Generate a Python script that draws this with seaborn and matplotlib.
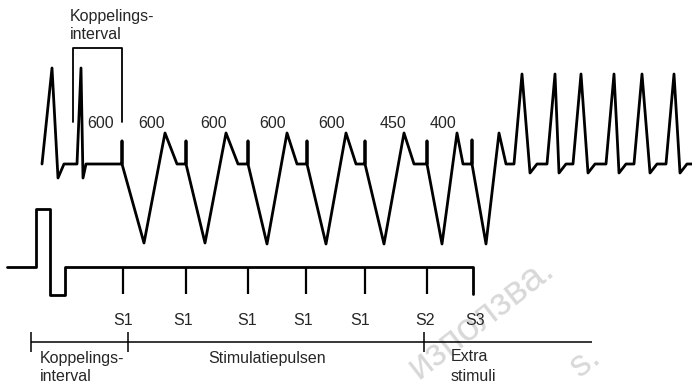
import matplotlib
matplotlib.use("Agg")
import matplotlib.pyplot as plt
import pandas as pd
import seaborn as sns

# ECG-achtige curve (x, y in beeldpunten, y naar beneden)
ecg_x = [42, 52, 58, 64, 77, 81, 83, 86, 122, 122, 122,
         144, 165, 177, 186, 186, 186,
         205, 226, 238, 248, 248, 248,
         267, 287, 297, 307, 307, 307,
         326, 346, 356, 365, 365, 365,
         384, 404, 414, 427, 427, 427,
         442, 457, 463, 472, 472, 472,
         486, 499, 506, 514,
         522, 530, 537, 547,
         555, 559, 566, 573,
         581, 588, 595, 606,
         614, 619, 626, 634,
         642, 650, 657, 666,
         674, 680, 687, 692]
ecg_y = [164, 68, 178, 164, 164, 68, 178, 164, 164, 141, 164,
         243, 133, 164, 164, 141, 164,
         243, 133, 164, 164, 141, 164,
         244, 133, 164, 164, 141, 164,
         244, 133, 164, 164, 141, 164,
         244, 133, 164, 164, 141, 164,
         244, 133, 164, 164, 140, 164,
         244, 133, 164, 164,
         74, 173, 164, 164,
         74, 173, 164, 164,
         74, 173, 164, 164,
         74, 173, 164, 164,
         74, 173, 164, 164,
         74, 173, 164, 164]

# stimulatiespoor
stim_x = [7, 36, 36, 50, 50, 65, 65, 473, 473]
stim_y = [267, 267, 209, 209, 295, 295, 267, 267, 294]
pulse_x = [123, 186, 248, 306, 365, 427]
pulse_top, pulse_bottom = 267, 294

# intervallen boven de curve
interval_labels = ["600", "600", "600", "600", "600", "450", "400"]
interval_x = [101, 152, 214, 273, 332, 393, 443]

s_labels = ["S1", "S1", "S1", "S1", "S1", "S2", "S3"]
s_label_x = [123, 183, 247, 303, 360, 425, 475]

# koppelingsinterval-haak
bracket_x = [73, 73, 122, 122]
bracket_y = [122, 48, 48, 122]

# tijdlijn onderaan
timeline_x = [31, 592]
timeline_y = 342
timeline_ticks = [31, 128, 424]

sns.set_style("white")
plt.rcParams["font.family"] = ["Liberation Sans", "DejaVu Sans"]

fig = plt.figure(figsize=(6.92, 3.85), dpi=100)
ax = fig.add_axes([0, 0, 1, 1])

# watermerk
ax.text(481, 318, "използва.", fontsize=28, color="#d8d8d8", rotation=38,
        ha="center", va="center", zorder=0)
ax.text(585, 362, "s.", fontsize=26, color="#d8d8d8", rotation=38,
        ha="center", va="center", zorder=0)

ecg = pd.DataFrame({"x": ecg_x, "y": ecg_y})
sns.lineplot(data=ecg, x="x", y="y", sort=False, estimator=None,
             color="black", linewidth=2, ax=ax)

stim = pd.DataFrame({"x": stim_x, "y": stim_y})
sns.lineplot(data=stim, x="x", y="y", sort=False, estimator=None,
             color="black", linewidth=2, ax=ax)
ax.vlines(pulse_x, pulse_top, pulse_bottom, color="black", linewidth=1.6)

ax.plot(bracket_x, bracket_y, color="black", linewidth=1.3)

ax.hlines(timeline_y, timeline_x[0], timeline_x[1], color="black", linewidth=1.1)
ax.vlines(timeline_ticks, timeline_y - 10, timeline_y + 10, color="black", linewidth=1.1)

fs = 11.5
ax.text(70, 21, "Koppelings-", fontsize=fs, ha="left", va="baseline")
ax.text(70, 39, "interval", fontsize=fs, ha="left", va="baseline")

for lab, x in zip(interval_labels, interval_x):
    ax.text(x, 128, lab, fontsize=fs, ha="center", va="baseline")

for lab, x in zip(s_labels, s_label_x):
    ax.text(x, 325, lab, fontsize=fs, ha="center", va="baseline")

ax.text(40, 363, "Koppelings-", fontsize=fs, ha="left", va="baseline")
ax.text(40, 381, "interval", fontsize=fs, ha="left", va="baseline")
ax.text(267, 363, "Stimulatiepulsen", fontsize=fs, ha="center", va="baseline")
ax.text(451, 361, "Extra", fontsize=fs, ha="left", va="baseline")
ax.text(451, 381, "stimuli", fontsize=fs, ha="left", va="baseline")

ax.set_xlim(0, 692)
ax.set_ylim(385, 0)
ax.axis("off")

fig.savefig("out.png", dpi=100)
